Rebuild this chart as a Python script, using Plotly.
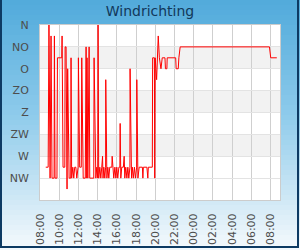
import plotly.graph_objects as go

# ---- data ----
times = [
    "08:36", "08:51", "08:56", "09:03", "09:09", "09:15", "09:28", "09:30", "09:34", "09:46",
    "09:49", "10:16", "10:18", "10:24", "10:35", "10:37", "10:43", "10:49", "10:53", "11:02",
    "11:12", "11:14", "11:18", "11:25", "11:31", "11:37", "11:44", "11:50", "11:58", "12:00",
    "12:08", "12:18", "12:21", "12:30", "12:43", "12:48", "12:52", "12:54", "12:59", "13:07",
    "13:11", "13:36", "13:38", "13:44", "13:49", "13:55", "14:01", "14:03", "14:07", "14:14",
    "14:20", "14:26", "14:31", "14:34", "14:39", "14:45", "14:50", "14:51", "14:58", "15:04",
    "15:10", "15:16", "15:29", "15:31", "15:35", "15:41", "15:48", "15:54", "16:00", "16:06",
    "16:13", "16:19", "16:21", "16:25", "16:31", "16:41", "16:46", "16:50", "16:56", "17:03",
    "17:09", "17:15", "17:22", "17:23", "17:32", "17:37", "17:43", "17:50", "17:56", "18:04",
    "18:05", "18:12", "18:20", "18:40", "18:43", "18:46", "19:08", "19:14", "19:17", "19:42",
    "19:44", "19:55", "19:57", "20:00", "20:09", "20:19", "20:26", "20:36", "20:44", "21:01",
    "21:04", "21:13", "21:15", "22:08", "22:11", "22:24", "22:28", "22:36",
    "+07:54", "+08:02", "+08:40",
]
directions = [
    292.5, 292.5, 0, 315, 22.5, 315, 315, 22.5, 315, 315,
    67.5, 67.5, 22.5, 292.5, 292.5, 45, 45, 337.5, 90, 315,
    315, 67.5, 315, 292.5, 315, 292.5, 292.5, 315, 292.5, 67.5,
    292.5, 292.5, 67.5, 315, 315, 45, 315, 67.5, 315, 45,
    315, 315, 67.5, 292.5, 315, 292.5, 315, 0, 315, 292.5,
    315, 292.5, 270, 315, 292.5, 315, 292.5, 112.5, 315, 292.5,
    315, 292.5, 292.5, 270, 292.5, 315, 292.5, 315, 292.5, 315,
    292.5, 292.5, 202.5, 315, 292.5, 292.5, 270, 315, 292.5, 315,
    292.5, 315, 292.5, 90, 315, 292.5, 315, 292.5, 315, 292.5,
    112.5, 315, 292.5, 292.5, 315, 292.5, 292.5, 315, 292.5, 292.5,
    67.5, 67.5, 315, 67.5, 112.5, 22.5, 67.5, 90, 67.5, 67.5,
    90, 90, 67.5, 67.5, 90, 90, 67.5, 45,
    45, 67.5, 67.5,
]
tick_vals_deg = [0, 45, 90, 135, 180, 225, 270, 315]
tick_text_dir = ["N", "NO", "O", "ZO", "Z", "ZW", "W", "NW"]
band_ranges = [(45, 90), (135, 180), (225, 270)]
x_start, x_end = "2024-05-01 08:00", "2024-05-02 09:00"

def to_dt(t):
    if t.startswith("+"):
        return "2024-05-02 " + t[1:]
    return "2024-05-01 " + t

xs = [to_dt(t) for t in times]

W, H = 300, 250
L, R, T, B = 40, 20, 25, 50
pw, ph = W - L - R, H - T - B

def px(x):
    return (x - L) / pw

def py(y):
    return (H - B - y) / ph

fig = go.Figure()
fig.add_trace(go.Scatter(x=xs, y=directions, mode="lines",
                         line=dict(color="#ff0000", width=1), hoverinfo="skip"))

shapes = []
# background gradient of the card
stops = [(0, (82, 170, 219)), (15, (88, 174, 221)), (115, (142, 203, 235)),
         (210, (216, 236, 247)), (250, (246, 250, 253))]

def col(y):
    for (y0, c0), (y1, c1) in zip(stops[:-1], stops[1:]):
        if y0 <= y <= y1:
            f = (y - y0) / (y1 - y0)
            return "rgb(%d,%d,%d)" % tuple(round(a + (b - a) * f) for a, b in zip(c0, c1))
    return "rgb(246,250,253)"

step = 5
for y in range(0, H, step):
    shapes.append(dict(type="rect", xref="paper", yref="paper", layer="below",
                       x0=px(-2), x1=px(W + 2), y0=py(y), y1=py(y + step + 0.5),
                       fillcolor=col(y + step / 2), line=dict(width=0)))
# plot area white
shapes.append(dict(type="rect", xref="paper", yref="paper", layer="below",
                   x0=0, x1=1, y0=0, y1=1, fillcolor="white", line=dict(width=0)))
for a, b in band_ranges:
    shapes.append(dict(type="rect", xref="paper", yref="y", layer="below",
                       x0=0, x1=1, y0=a, y1=b, fillcolor="#f2f2f2", line=dict(width=0)))
# card border
shapes.append(dict(type="rect", xref="paper", yref="paper", layer="above",
                   x0=px(1), x1=px(298), y0=py(247), y1=py(-3),
                   fillcolor="rgba(0,0,0,0)", line=dict(color="#0d3a63", width=2)))

fig.update_layout(
    width=W, height=H,
    margin=dict(l=L, r=R, t=T, b=B, autoexpand=False),
    paper_bgcolor="#8ecbeb", plot_bgcolor="rgba(0,0,0,0)",
    showlegend=False,
    shapes=shapes,
    font=dict(family="DejaVu Sans", size=11, color="#4d4d4d"),
    title=dict(text="Windrichting", x=0.5, xanchor="center", y=1 - 11 / H, yanchor="middle",
               yref="container", font=dict(family="DejaVu Sans", size=14, color="#12385a")),
    xaxis=dict(type="date", range=[x_start, x_end], dtick=2 * 3600 * 1000,
               tick0="2024-05-01 08:00", tickformat="%H:%M", tickangle=-90,
               showgrid=True, gridcolor="#cfcfcf", gridwidth=1,
               showline=True, linecolor="#cccccc", linewidth=1, mirror=True,
               ticks="", ticklabelstandoff=8, zeroline=False, automargin=False,
               tickfont=dict(family="DejaVu Sans", size=11, color="#4d4d4d")),
    yaxis=dict(range=[360, 0], tickvals=tick_vals_deg, ticktext=tick_text_dir,
               showgrid=True, gridcolor="#e3e3e3", gridwidth=1,
               showline=True, linecolor="#cccccc", linewidth=1, mirror=True,
               ticks="", ticklabelstandoff=8, zeroline=False, automargin=False,
               tickfont=dict(family="DejaVu Sans", size=11, color="#4d4d4d")),
)

fig.write_html("out.html")
